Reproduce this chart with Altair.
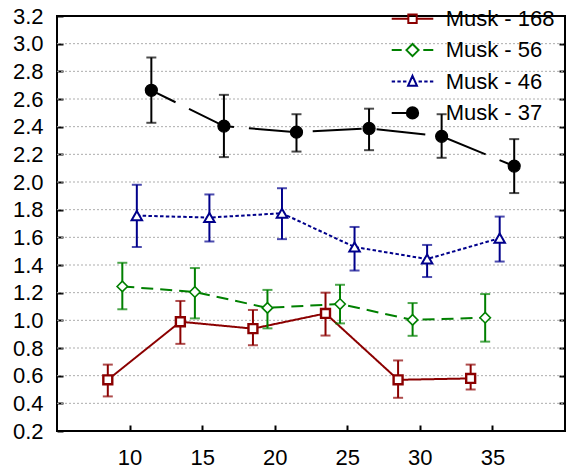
import altair as alt
import pandas as pd

# ---------------- data ----------------
groups = [10, 15, 20, 25, 30, 35]
series_names = ["Musk - 168", "Musk - 56", "Musk - 46", "Musk - 37"]
dodge = [-1.5, -0.5, 0.5, 1.5]

mean_168 = [0.57, 0.99, 0.94, 1.05, 0.57, 0.58]
lo_168 = [0.45, 0.83, 0.82, 0.89, 0.44, 0.50]
hi_168 = [0.68, 1.14, 1.075, 1.20, 0.71, 0.68]

mean_56 = [1.245, 1.205, 1.09, 1.118, 1.003, 1.019]
lo_56 = [1.08, 1.014, 0.942, 0.978, 0.888, 0.846]
hi_56 = [1.416, 1.378, 1.22, 1.257, 1.125, 1.19]

mean_46 = [1.757, 1.743, 1.774, 1.53, 1.443, 1.594]
lo_46 = [1.53, 1.57, 1.587, 1.36, 1.313, 1.425]
hi_46 = [1.98, 1.91, 1.955, 1.675, 1.545, 1.75]

mean_37 = [2.663, 2.404, 2.36, 2.387, 2.33, 2.115]
lo_37 = [2.428, 2.18, 2.22, 2.23, 2.175, 1.92]
hi_37 = [2.90, 2.63, 2.49, 2.53, 2.49, 2.31]

y_ticks = [0.2, 0.4, 0.6, 0.8, 1.0, 1.2, 1.4, 1.6, 1.8, 2.0, 2.2, 2.4, 2.6, 2.8, 3.0, 3.2]
x_ticks = [10, 15, 20, 25, 30, 35]
grid_values = y_ticks[1:-1]

means = [mean_168, mean_56, mean_46, mean_37]
los = [lo_168, lo_56, lo_46, lo_37]
his = [hi_168, hi_56, hi_46, hi_37]

rows = []
for name, off, m, lo, hi in zip(series_names, dodge, means, los, his):
    for g, mv, l, h in zip(groups, m, lo, hi):
        rows.append({"series": name, "group": g, "x": g + off, "mean": mv, "lo": l, "hi": h})
df = pd.DataFrame(rows)
grid_df = pd.DataFrame({"v": grid_values})

# ---------------- styles ----------------
colors = ["#8B0000", "#008000", "#00008B", "#000000"]
dashes = [[1, 0], [12, 7], [3.5, 2.3], [49, 15]]
dash_offsets = [0, 0, 0, 22]
shapes = ["square", "diamond", "triangle-up", "circle"]
sizes = [80, 110, 110, 144]
fills = ["white", "white", "white", "black"]
point_sw = [2.4, 1.6, 2.0, 1.2]

L = 1.54
legend_paths = [
    f"M-{L},0H-0.31M0.31,0H{L}M-0.31,-0.31H0.31V0.31H-0.31Z",
    f"M-{L},0H-0.8M0.8,0H{L}M-0.45,0L0,-0.45L0.45,0L0,0.45Z",
    "M-1.54,0H-1.29M-1.12,0H-0.87M-0.70,0H-0.45M0.45,0H0.70M0.87,0H1.12M1.29,0H1.54"
    "M0,-0.42L0.33,0.32L-0.33,0.32Z",
    f"M-{L},0H-0.42"
    "M0.42,0A0.42,0.42,0,1,1,-0.42,0A0.42,0.42,0,1,1,0.42,0Z"
    "M0.30,0A0.30,0.30,0,1,1,-0.30,0A0.30,0.30,0,1,1,0.30,0Z"
    "M0.18,0A0.18,0.18,0,1,1,-0.18,0A0.18,0.18,0,1,1,0.18,0Z"
    "M0.07,0A0.07,0.07,0,1,1,-0.07,0A0.07,0.07,0,1,1,0.07,0Z",
]

FONT = "Liberation Sans"
FS = 22

xscale = alt.Scale(domain=[5, 40], nice=False, zero=False)
yscale = alt.Scale(domain=[0.2, 3.2], nice=False, zero=False)

x_axis = alt.Axis(values=x_ticks, title=None, grid=False, domain=False, offset=-6,
                  tickSize=6, tickWidth=2, tickColor="black", ticks=True, labelPadding=16,
                  labelFontSize=FS, labelFont=FONT, labelColor="black", orient="bottom")
y_axis_left = alt.Axis(values=y_ticks, title=None, grid=False, domain=False, offset=-6,
                       tickSize=6, tickWidth=2, tickColor="black", ticks=True, labelPadding=14,
                       labelFontSize=FS, labelFont=FONT, labelColor="black",
                       format=".1f", orient="left")
y_axis_right = alt.Axis(values=grid_values, title=None, grid=False, domain=False, offset=-6,
                        tickSize=6, tickWidth=2, tickColor="black", ticks=True, labels=False,
                        orient="right")


def X():
    return alt.X("x:Q", scale=xscale, axis=x_axis)


def Y(field):
    return alt.Y(f"{field}:Q", scale=yscale, axis=y_axis_left)


base = alt.Chart(df)

# dotted horizontal grid, drawn from the tick list through the y scale
grid_layer = alt.Chart(grid_df).mark_rule(
    color="#adadad", strokeWidth=1, strokeDash=[2, 2]
).encode(
    y=alt.Y("v:Q", scale=yscale, axis=y_axis_left),
    x=alt.value(0),
    x2=alt.value("width"),
)

data_layers = [grid_layer]
# lines
for i, name in enumerate(series_names):
    data_layers.append(
        base.transform_filter(alt.datum.series == name).mark_line(
            color=colors[i], strokeWidth=2, strokeDash=dashes[i], strokeDashOffset=dash_offsets[i]
        ).encode(x=X(), y=Y("mean"), order="group:Q")
    )
# error bars
for i, name in enumerate(series_names):
    sub = base.transform_filter(alt.datum.series == name)
    data_layers.append(sub.mark_rule(color=colors[i], strokeWidth=2).encode(
        x=X(), y=Y("lo"), y2="hi:Q"))
    for col in ["lo", "hi"]:
        data_layers.append(sub.mark_tick(color=colors[i], thickness=2, size=10,
                                         orient="horizontal").encode(x=X(), y=Y(col)))
# markers
for i, name in enumerate(series_names):
    data_layers.append(
        base.transform_filter(alt.datum.series == name).mark_point(
            shape=shapes[i], filled=True, fill=fills[i], stroke=colors[i],
            strokeWidth=point_sw[i], size=sizes[i], opacity=1
        ).encode(x=X(), y=Y("mean"))
    )

inner = alt.layer(*data_layers)

leg = alt.Legend(title=None, orient="none", legendX=341, legendY=-11.8, padding=0,
                 rowPadding=5.4, labelOffset=18.7, labelFontSize=FS, labelFont=FONT,
                 labelColor="black", labelLimit=0, symbolSize=729, symbolStrokeWidth=2)

legend_layer = base.mark_point(opacity=0).encode(
    x=X(),
    y=alt.Y("mean:Q", scale=yscale, axis=y_axis_right),
    color=alt.Color("series:N", scale=alt.Scale(domain=series_names, range=colors), legend=leg),
    shape=alt.Shape("series:N", scale=alt.Scale(domain=series_names, range=legend_paths), legend=leg),
)

chart = alt.layer(inner, legend_layer).resolve_axis(y="independent").properties(
    width=508, height=415,
    autosize=alt.AutoSizeParams(type="none"),
    padding={"left": 57, "top": 16, "right": 2, "bottom": 39},
).configure(
    background="white",
    view=alt.ViewConfig(stroke="black", strokeWidth=2),
)

chart.save("out.html", embed_options={"renderer": "svg", "actions": False})
